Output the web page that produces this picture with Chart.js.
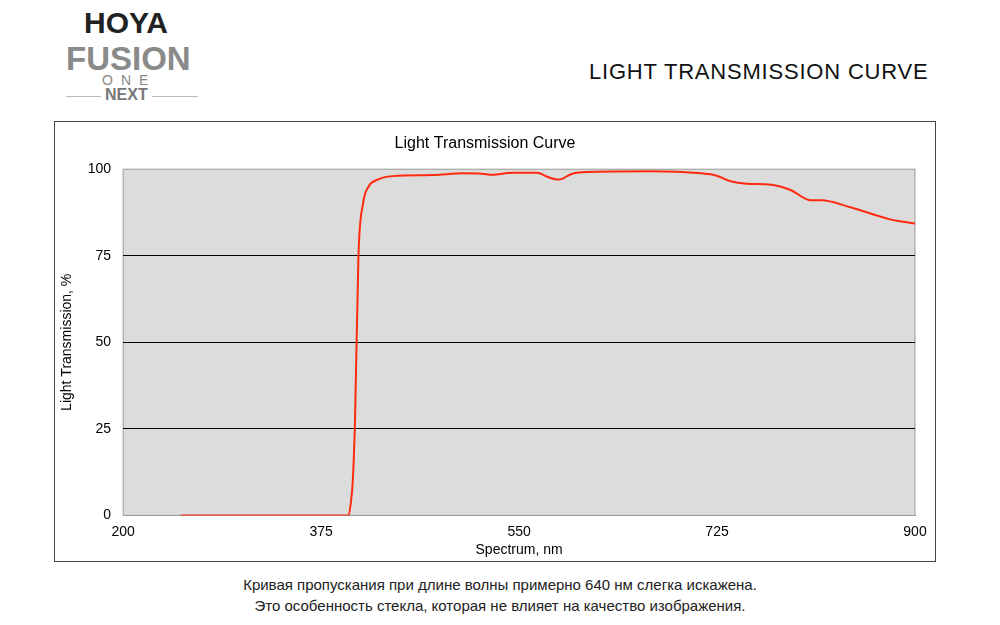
<!DOCTYPE html><html><head><meta charset="utf-8">
<script src="https://cdn.jsdelivr.net/npm/chart.js@4"></script>
<style>body{margin:0;width:1000px;height:625px;background:#fff;font-family:Arial,"Liberation Sans",sans-serif;position:relative}
#box{position:absolute;left:54px;top:121px;width:882px;height:441px;border:1px solid #444;box-sizing:border-box}
.t{position:absolute}</style></head><body>
<div class="t" style="left:84px;top:6px;font-size:30px;font-weight:bold;color:#222;letter-spacing:0px">HOYA</div>
<div class="t" style="left:66px;top:40px;font-size:33px;font-weight:bold;color:#8a8a8a;letter-spacing:0px">FUSION</div>
<div class="t" style="left:102px;top:72px;font-size:14px;color:#888;letter-spacing:8px">ONE</div>
<div class="t" style="left:66px;top:96px;width:132px;border-top:1px solid #bbb"></div>
<div class="t" style="left:101px;top:86px;font-size:16px;font-weight:bold;color:#777;background:#fff;padding:0 4px">NEXT</div>
<div class="t" style="left:589px;top:59px;font-size:22px;color:#111;letter-spacing:0.8px">LIGHT TRANSMISSION CURVE</div>
<div id="box"><canvas id="c" width="880" height="439"></canvas></div>
<div class="t" style="left:0;width:1000px;top:574px;text-align:center;font-size:15px;line-height:21px;color:#222">Кривая пропускания при длине волны примерно 640 нм слегка искажена.<br>Это особенность стекла, которая не влияет на качество изображения.</div>
<script>
const wavelengths=[251,300,350,399,401,403,405,408,412,417,425,438,474,500,517,526,544,566,575,585,597,610,667,711,724,737,751,773,790,808,817,843,878,900];
const transmission=[0,0,0,0,3,10,28,75,90,95,97,98,98.3,98.8,98.7,98.4,99,99,97.8,97,98.7,99.2,99.4,98.8,98.2,96.5,95.8,95.5,94,91,91,89,85.5,84.3];
const xTicks=[200,375,550,725,900];
const yTicks=[0,25,50,75,100];
const bg={id:'bg',beforeDraw(c){const a=c.chartArea,x=c.ctx;x.save();x.fillStyle='#dcdcdc';x.fillRect(a.left,a.top,a.width,a.height);x.strokeStyle='#999';x.strokeRect(a.left,a.top,a.width,a.height);x.restore();}};
new Chart(document.getElementById('c'),{type:'line',
data:{datasets:[{data:wavelengths.map((w,i)=>({x:w,y:transmission[i]})),borderColor:'#ff2a10',borderWidth:2,pointRadius:0,cubicInterpolationMode:'monotone'}]},
options:{responsive:false,animation:false,layout:{padding:{left:0,right:20,top:0,bottom:2}},
plugins:{legend:{display:false},title:{display:true,text:'Light Transmission Curve',color:'#000',font:{size:16,weight:'normal'},padding:{top:12,bottom:16}}},
scales:{x:{type:'linear',min:200,max:900,afterBuildTicks(s){s.ticks=xTicks.map(v=>({value:v}))},grid:{display:false},border:{color:'#999'},
ticks:{color:'#000',font:{size:14},padding:0},title:{display:true,text:'Spectrum, nm',color:'#000',font:{size:14},padding:{top:2,bottom:0}}},
y:{min:0,max:100,afterBuildTicks(s){s.ticks=yTicks.map(v=>({value:v}))},grid:{color:c=>c.tick.value>0&&c.tick.value<100?'#000':'rgba(0,0,0,0)',drawTicks:false},border:{display:false},
ticks:{color:'#000',font:{size:14},padding:12},title:{display:true,text:'Light Transmission, %',color:'#000',font:{size:14},padding:{bottom:0}}}}},
plugins:[bg]});
</script></body></html>
